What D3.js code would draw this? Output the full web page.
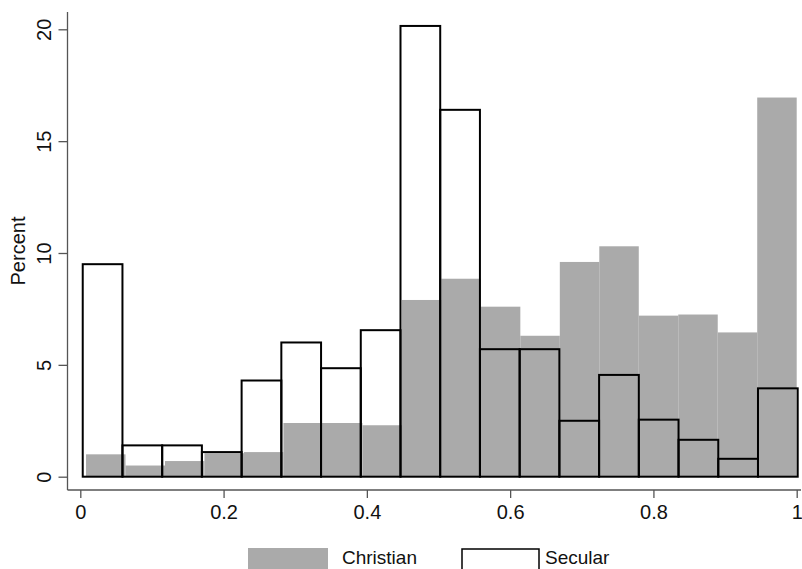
<!DOCTYPE html>
<html>
<head>
<meta charset="utf-8">
<script src="https://cdn.jsdelivr.net/npm/d3@7"></script>
<style>
  body { margin: 0; background: #fff; }
  text { font-family: "Liberation Sans", Arial, Helvetica, sans-serif; fill: #111; }
</style>
</head>
<body>
<div id="chart"></div>
<script>
// histogram values (percent per bin), 18 bins each
var christianPct = [1.0, 0.5, 0.7, 1.05, 1.1, 2.4, 2.4, 2.3, 7.9, 8.85, 7.6, 6.3, 9.6, 10.3, 7.2, 7.25, 6.45, 16.95];
var secularPct   = [9.5, 1.4, 1.4, 1.1, 4.3, 6.0, 4.85, 6.55, 20.15, 16.4, 5.7, 5.7, 2.5, 4.55, 2.55, 1.65, 0.8, 3.95];
var christianStart = 0.008, secularStart = 0.002, binEnd = 1;
var xTicks = [0, 0.2, 0.4, 0.6, 0.8, 1];
var yTicks = [0, 5, 10, 15, 20];
var seriesNames = ["Christian", "Secular"];

function vis() {
    var width = 802, height = 569;
    var left = 80.3, right = 796.7, bottom = 476.7, top = 29.3;

    var x = d3.scaleLinear().domain([0, 1]).range([left, right]);
    var y = d3.scaleLinear().domain([0, 20]).range([bottom, top]);

    var svg = d3.select("#chart").append("svg")
        .attr("width", width)
        .attr("height", height);

    function bins(vals, start) {
        var w = (binEnd - start) / vals.length;
        return vals.map(function(v, i) {
            return {x0: start + i * w, x1: start + (i + 1) * w, v: v};
        });
    }

    // Christian - filled grey
    svg.append("g")
        .selectAll("rect")
        .data(bins(christianPct, christianStart))
        .enter().append("rect")
        .attr("x", function(d) { return x(d.x0); })
        .attr("y", function(d) { return y(d.v); })
        .attr("width", function(d) { return x(d.x1) - x(d.x0); })
        .attr("height", function(d) { return y(0) - y(d.v); })
        .attr("fill", "#aaaaaa");

    // Secular - outline only
    svg.append("g")
        .selectAll("rect")
        .data(bins(secularPct, secularStart))
        .enter().append("rect")
        .attr("x", function(d) { return x(d.x0) + 1; })
        .attr("y", function(d) { return y(d.v); })
        .attr("width", function(d) { return x(d.x1) - x(d.x0); })
        .attr("height", function(d) { return y(0) - y(d.v); })
        .attr("fill", "none")
        .attr("stroke", "#000")
        .attr("stroke-width", 2);

    // y axis
    var axisX = 67.5, axisY = 490;
    var yAxis = d3.axisLeft(y).tickValues(yTicks).tickSize(9).tickPadding(0).tickFormat(d3.format("d"));
    var gy = svg.append("g")
        .attr("transform", "translate(" + axisX + ",0)")
        .call(yAxis);
    gy.select(".domain").remove();
    gy.selectAll(".tick line").attr("stroke", "#555").attr("stroke-width", 1.3);
    gy.selectAll(".tick text")
        .attr("x", 0).attr("dy", null)
        .attr("transform", "translate(-22,0) rotate(-90)")
        .attr("text-anchor", "middle")
        .attr("dominant-baseline", "middle")
        .style("font-size", "20px");
    svg.append("line")
        .attr("x1", axisX).attr("x2", axisX)
        .attr("y1", 12).attr("y2", axisY)
        .attr("stroke", "#555").attr("stroke-width", 1.3);

    // x axis
    var xAxis = d3.axisBottom(x).tickValues(xTicks).tickSize(8).tickPadding(7).tickFormat(d3.format("~g"));
    var gx = svg.append("g")
        .attr("transform", "translate(0," + axisY + ")")
        .call(xAxis);
    gx.select(".domain").remove();
    gx.selectAll(".tick line").attr("stroke", "#555").attr("stroke-width", 1.3);
    gx.selectAll(".tick text").style("font-size", "20px");
    svg.append("line")
        .attr("x1", axisX).attr("x2", 801)
        .attr("y1", axisY).attr("y2", axisY)
        .attr("stroke", "#555").attr("stroke-width", 1.3);

    // y title
    svg.append("text")
        .attr("transform", "translate(25,251) rotate(-90)")
        .attr("text-anchor", "middle")
        .style("font-size", "20px")
        .text("Percent");

    // legend
    var leg = svg.append("g");
    leg.append("rect")
        .attr("x", 248).attr("y", 548).attr("width", 80).attr("height", 24)
        .attr("fill", "#aaaaaa");
    leg.append("text")
        .attr("x", 342).attr("y", 564)
        .style("font-size", "19px")
        .text(seriesNames[0]);
    leg.append("rect")
        .attr("x", 462).attr("y", 549).attr("width", 77).attr("height", 24)
        .attr("fill", "none").attr("stroke", "#000").attr("stroke-width", 1.5);
    leg.append("text")
        .attr("x", 545).attr("y", 564)
        .style("font-size", "19px")
        .text(seriesNames[1]);
}
vis();
</script>
</body>
</html>
